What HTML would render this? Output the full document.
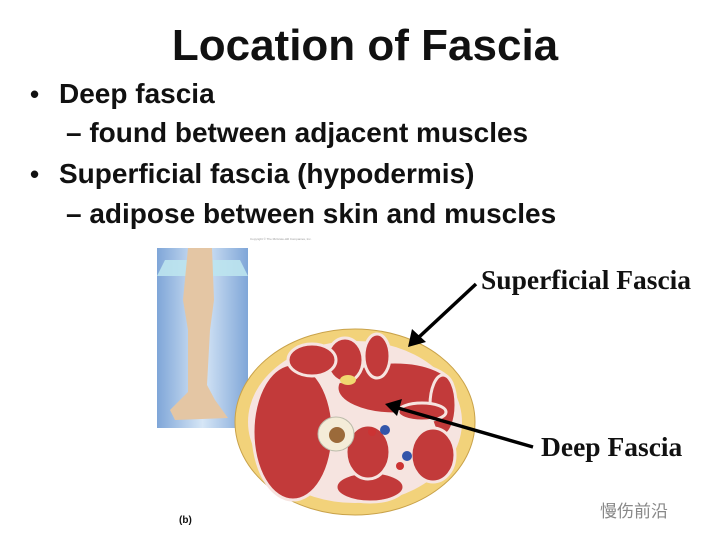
<!DOCTYPE html>
<html><head><meta charset="utf-8"><style>
body{margin:0;width:720px;height:540px;background:#fff;overflow:hidden;position:relative;font-family:"Liberation Sans",sans-serif}
.t{position:absolute;white-space:nowrap;color:#111;font-weight:bold}
</style></head><body>
<div class="t" style="left:0;width:730px;text-align:center;top:21px;font-size:44px">Location of Fascia</div>
<div class="t" style="left:30px;top:79px;font-size:26px">•</div>
<div class="t" style="left:59px;top:78px;font-size:28px">Deep fascia</div>
<div class="t" style="left:66px;top:117px;font-size:28px">– found between adjacent muscles</div>
<div class="t" style="left:30px;top:159px;font-size:26px">•</div>
<div class="t" style="left:59px;top:158px;font-size:28px">Superficial fascia (hypodermis)</div>
<div class="t" style="left:66px;top:198px;font-size:28px">– adipose between skin and muscles</div>
<svg width="720" height="540" style="position:absolute;left:0;top:0">
<defs><linearGradient id="bg" x1="0" x2="1"><stop offset="0" stop-color="#7fa6d8"/><stop offset="0.5" stop-color="#d6e6f6"/><stop offset="1" stop-color="#7fa6d8"/></linearGradient></defs>
<rect x="157" y="248" width="91" height="180" fill="url(#bg)"/>
<polygon points="165,260 240,260 248,276 157,276" fill="#bde4ee" opacity="0.9"/>
<path d="M188,248 L212,248 L214,300 L210,330 L207,385 L215,400 L228,418 L175,420 L170,410 L188,392 L188,330 L183,300 Z" fill="#e4c6a4"/>
<text x="250" y="240" font-size="3" fill="#999">Copyright © The McGraw-Hill Companies, Inc.</text>
<ellipse cx="355" cy="422" rx="120" ry="93" fill="#f2d27a" stroke="#c9a24a"/>
<ellipse cx="355" cy="422" rx="107" ry="81" fill="#f6e4e0"/>
<g fill="#c23a3a" stroke="#f6e4e0" stroke-width="3">
<ellipse cx="293" cy="432" rx="40" ry="68"/>
<ellipse cx="395" cy="388" rx="58" ry="26"/>
<ellipse cx="345" cy="360" rx="18" ry="22"/>
<ellipse cx="377" cy="356" rx="13" ry="22"/>
<ellipse cx="312" cy="360" rx="24" ry="16"/>
<ellipse cx="443" cy="405" rx="13" ry="30"/>
<ellipse cx="433" cy="455" rx="22" ry="27"/>
<ellipse cx="370" cy="487" rx="34" ry="15"/>
<ellipse cx="368" cy="452" rx="22" ry="27"/>
<ellipse cx="422" cy="412" rx="24" ry="9"/>
</g>
<ellipse cx="348" cy="380" rx="8" ry="5" fill="#f0d870"/>
<ellipse cx="336" cy="434" rx="18" ry="17" fill="#f4ecd8" stroke="#bba"/>
<ellipse cx="337" cy="435" rx="8" ry="8" fill="#9b6a3a"/>
<circle cx="372" cy="432" r="4" fill="#c33"/><circle cx="385" cy="430" r="5" fill="#35a"/>
<circle cx="407" cy="456" r="5" fill="#35a"/><circle cx="400" cy="466" r="4" fill="#c33"/>
<line x1="476" y1="284" x2="418" y2="338" stroke="#000" stroke-width="3.5"/>
<polygon points="408,347 412,329 426,342" fill="#000"/>
<line x1="533" y1="447" x2="398" y2="408" stroke="#000" stroke-width="3.5"/>
<polygon points="385,404 402,399 397,416" fill="#000"/>
</svg>
<div class="t" style="left:481px;top:264px;font-size:27.5px;font-family:'Liberation Serif',serif">Superficial Fascia</div>
<div class="t" style="left:541px;top:431px;font-size:27.5px;font-family:'Liberation Serif',serif">Deep Fascia</div>
<div class="t" style="left:179px;top:515px;font-size:10px">(b)</div>
<div style="position:absolute;left:600px;top:497px;font-size:17px;color:#888;font-family:'Liberation Sans','Noto Sans CJK SC',sans-serif">慢伤前沿</div>
</body></html>
